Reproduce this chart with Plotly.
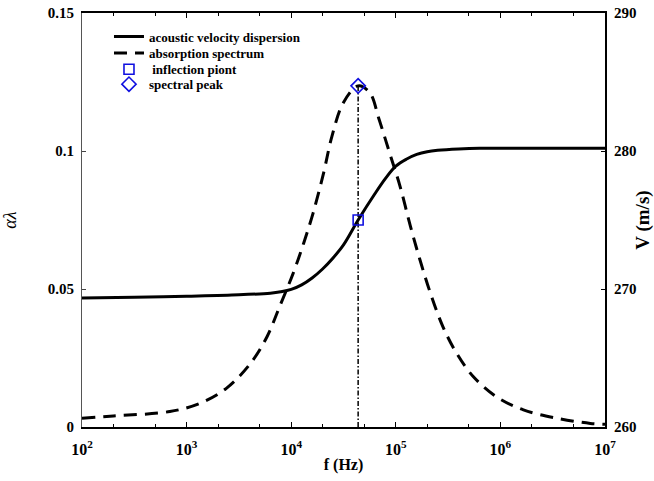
import plotly.graph_objects as go

# Frequency samples (log10 Hz) and acoustic phase velocity (m/s)
vel_logf = [2.0, 2.5, 3.0, 3.5, 3.8, 3.9, 4.0, 4.1, 4.2, 4.3, 4.4, 4.5, 4.64, 4.8, 4.9, 5.0,
            5.1, 5.2, 5.3, 5.4, 5.6, 5.8, 6.0, 6.5, 7.0]
vel_v = [269.35, 269.40, 269.48, 269.58, 269.70, 269.80, 269.97, 270.3, 270.8, 271.45, 272.25,
         273.2, 275.0, 276.9, 278.0, 278.9, 279.4, 279.75, 279.95, 280.05, 280.15, 280.2,
         280.2, 280.2, 280.2]

# Frequency samples (log10 Hz) and absorption per wavelength
abs_logf = [2.0, 2.3, 2.84, 3.13, 3.38, 3.61, 3.77, 3.89, 4.02, 4.12, 4.21, 4.31, 4.39, 4.50,
            4.64, 4.75, 4.84, 4.94, 5.04, 5.14, 5.23, 5.33, 5.45, 5.58, 5.74, 5.96, 6.22,
            6.54, 6.86, 7.0]
abs_alpha = [0.0032, 0.0040, 0.0056, 0.0086, 0.0140, 0.0230, 0.0328, 0.0437, 0.0558, 0.0667,
             0.0776, 0.0921, 0.1054, 0.1176, 0.1236, 0.1212, 0.1115, 0.0994, 0.0873, 0.0727,
             0.0607, 0.0486, 0.0364, 0.0268, 0.0183, 0.0110, 0.0062, 0.0032, 0.0013, 0.0010]

# Characteristic points
peak_logf = 4.64
peak_alpha = 0.1236
inflection_v = 275.0

# Tick labels
x_tick_exp = [2, 3, 4, 5, 6, 7]
y_left_ticks = [0, 0.05, 0.1, 0.15]
y_left_text = ["0", "0.05", "0.1", "0.15"]
y_right_ticks = [260, 270, 280, 290]

FONT = "Times New Roman, Liberation Serif, serif"
BLUE = "#1010e0"

vel_f = [10 ** v for v in vel_logf]
abs_f = [10 ** v for v in abs_logf]
peak_f = 10 ** peak_logf

fig = go.Figure()

fig.add_trace(go.Scatter(
    x=vel_f, y=vel_v, yaxis="y2", mode="lines", line_shape="spline",
    line=dict(color="black", width=3),
    name="acoustic velocity dispersion", legend="legend",
))
fig.add_trace(go.Scatter(
    x=abs_f, y=abs_alpha, mode="lines", line_shape="spline",
    line=dict(color="black", width=3, dash="13px,8px"),
    name="absorption spectrum", legend="legend2",
))
# dash-dot marker line from the axis up to the spectral peak
fig.add_trace(go.Scatter(
    x=[peak_f, peak_f], y=[0, peak_alpha], mode="lines",
    line=dict(color="black", width=1.5, dash="5px,2px,1.5px,2px"),
    showlegend=False, hoverinfo="skip",
))
fig.add_trace(go.Scatter(
    x=[peak_f], y=[inflection_v], yaxis="y2", mode="markers",
    marker=dict(symbol="square-open", size=10, color=BLUE, line=dict(width=1.6, color=BLUE)),
    name=" inflection piont", legend="legend3",
))
fig.add_trace(go.Scatter(
    x=[peak_f], y=[peak_alpha], mode="markers",
    marker=dict(symbol="diamond-open", size=11, color=BLUE, line=dict(width=1.6, color=BLUE)),
    name="spectral peak", legend="legend4",
))

tick_font = dict(family=FONT, size=15, color="black")


def legend_row(y):
    return dict(
        x=0.0516, y=y, xanchor="left", yanchor="middle",
        bgcolor="rgba(0,0,0,0)", borderwidth=0,
        font=dict(family=FONT, size=13, color="black", weight="bold"),
        itemwidth=30,
    )


fig.update_layout(
    width=654, height=481,
    margin=dict(l=82, r=49, t=13, b=54),
    paper_bgcolor="white", plot_bgcolor="white",
    font=dict(family=FONT, color="black"),
    showlegend=True,
    legend=legend_row(0.943),
    legend2=legend_row(0.903),
    legend3=legend_row(0.864),
    legend4=legend_row(0.828),
    xaxis=dict(
        type="log", range=[2, 7], automargin=False,
        tickvals=[10 ** e for e in x_tick_exp],
        ticktext=[f"<b>10<sup>{e}</sup></b>" for e in x_tick_exp],
        tickfont=dict(family=FONT, size=16, color="black"),
        ticks="inside", ticklen=5, tickcolor="black",
        ticklabelstandoff=7,
        minor=dict(ticks="inside", ticklen=3, tickcolor="black", showgrid=False),
        showline=True, linecolor="black", linewidth=1.5, mirror="ticks",
        showgrid=False, zeroline=False,
        title=dict(text="<b>f (Hz)</b>", font=dict(family=FONT, size=16, color="black"),
                   standoff=2),
    ),
    yaxis=dict(
        range=[0, 0.15], automargin=False,
        tickvals=y_left_ticks, ticktext=[f"<b>{t}</b>" for t in y_left_text],
        tickfont=tick_font,
        ticks="inside", ticklen=4, tickcolor="#444",
        ticklabelstandoff=4,
        showline=True, linecolor="#555", linewidth=1,
        showgrid=False, zeroline=False,
        title=dict(text="<i>αλ</i>", font=dict(family=FONT, size=18, color="black"),
                   standoff=26),
    ),
    yaxis2=dict(
        overlaying="y", side="right", range=[260, 290], automargin=False,
        tickvals=y_right_ticks, ticktext=[f"<b>{t}</b>" for t in y_right_ticks],
        tickfont=tick_font,
        ticks="inside", ticklen=4, tickcolor="black",
        ticklabelstandoff=4,
        showline=True, linecolor="black", linewidth=2,
        showgrid=False, zeroline=False,
        title=dict(text="<b>V (m/s)</b>", font=dict(family=FONT, size=19, color="black"),
                   standoff=5),
    ),
)

fig.write_html("out.html")
